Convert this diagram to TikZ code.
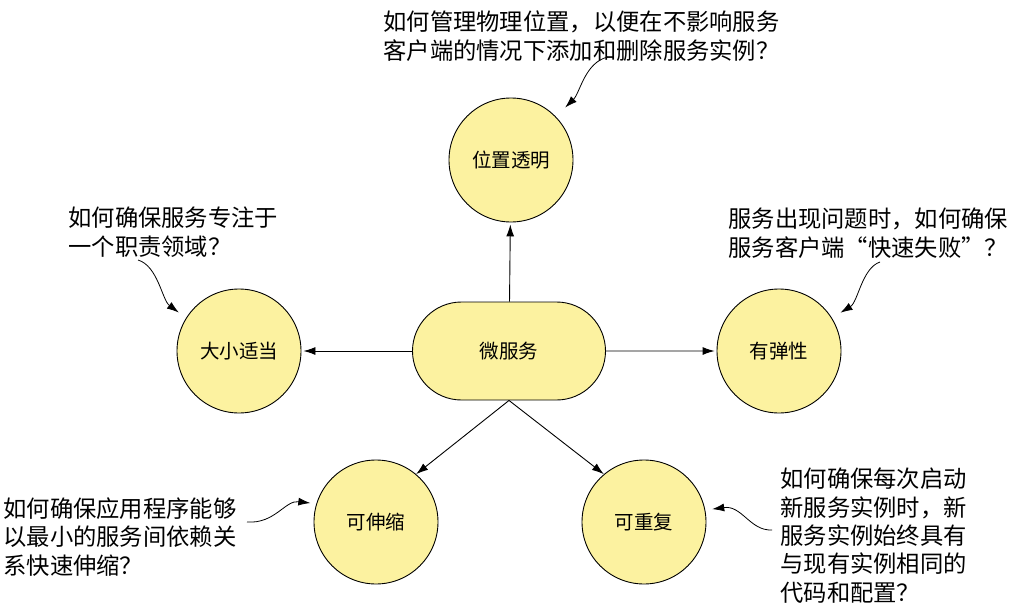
\documentclass[tikz,border=0pt]{standalone}
\usepackage{fontspec}
\setmainfont{Noto Sans CJK SC}
\usepackage{tikz}
\usetikzlibrary{arrows.meta,shapes.misc}
\definecolor{nodeyellow}{RGB}{252,242,160}

\begin{document}
\begin{tikzpicture}
[x=1pt,y=-1pt,line width=0.9pt,
>={Latex[length=12pt,width=8pt]},
main node/.style={circle,draw,fill=nodeyellow,minimum size=124pt,inner sep=0pt,font={\fontsize{19.5}{22}\selectfont}},
hub/.style={rounded rectangle,draw,fill=nodeyellow,minimum width=193pt,minimum height=98pt,inner sep=0pt,font={\fontsize{19.5}{22}\selectfont}},
note/.style={anchor=base west,align=left,inner sep=0pt,font={\fontsize{23.3}{28.3}\selectfont}},
callout/.style={->,line width=0.8pt}]
    \useasboundingbox (0,0) rectangle (1010,605);
    \node[hub] (micro) at (509,351) {微服务};
    \node[main node] (location) at (511,160) {位置透明};
    \node[main node] (size) at (239,351) {大小适当};
    \node[main node] (resilient) at (779,351) {有弹性};
    \node[main node] (scalable) at (376,522) {可伸缩};
    \node[main node] (repeatable) at (644,522) {可重复};
    % questions (placed at the baseline of their last line)
    \node[note] (locationq) at (383,59) {如何管理物理位置，以便在不影响服务\\客户端的情况下添加和删除服务实例？};
    \node[note] (sizeq) at (68,255) {如何确保服务专注于\\一个职责领域？};
    \node[note] (resilientq) at (728,256) {服务出现问题时，如何确保\\服务客户端“快速失败”？};
    \node[note] (scalableq) at (3,574) {如何确保应用程序能够\\以最小的服务间依赖关\\系快速伸缩？};
    \node[note] (repeatableq) at (780,601) {如何确保每次启动\\新服务实例时，新\\服务实例始终具有\\与现有实例相同的\\代码和配置？};
    \coordinate (locationc) at (608,57);
    \coordinate (sizec) at (138,260);
    \coordinate (resilientc) at (880,262);
    \coordinate (scalablec) at (247,522);
    \coordinate (repeatablec) at (772,530);
    \path [->](micro) edge[shorten >=2pt] node {} (location);
    \path [->](micro) edge[shorten >=2pt] node {} (size);
    \path [->](micro) edge[shorten >=2pt] node {} (resilient);
    \path [->](micro.south) edge node {} (scalable.50);
    \path [->](micro.south) edge node {} (repeatable.130);
    \draw[callout,shorten >=13pt] (locationc) .. controls (585,62) and (580,93) .. (location.44);
    \draw[callout,shorten >=9pt] (sizec) .. controls (158,266) and (162,300) .. (size.148);
    \draw[callout,shorten >=10pt] (resilientc) .. controls (862,268) and (858,302) .. (resilient.32);
    \draw[callout,shorten >=6pt] (scalablec) .. controls (275,524) and (285,500) .. (scalable.163);
    \draw[callout,shorten >=7pt] (repeatablec) .. controls (750,531) and (742,505) .. (repeatable.11);
\end{tikzpicture}
\end{document}
